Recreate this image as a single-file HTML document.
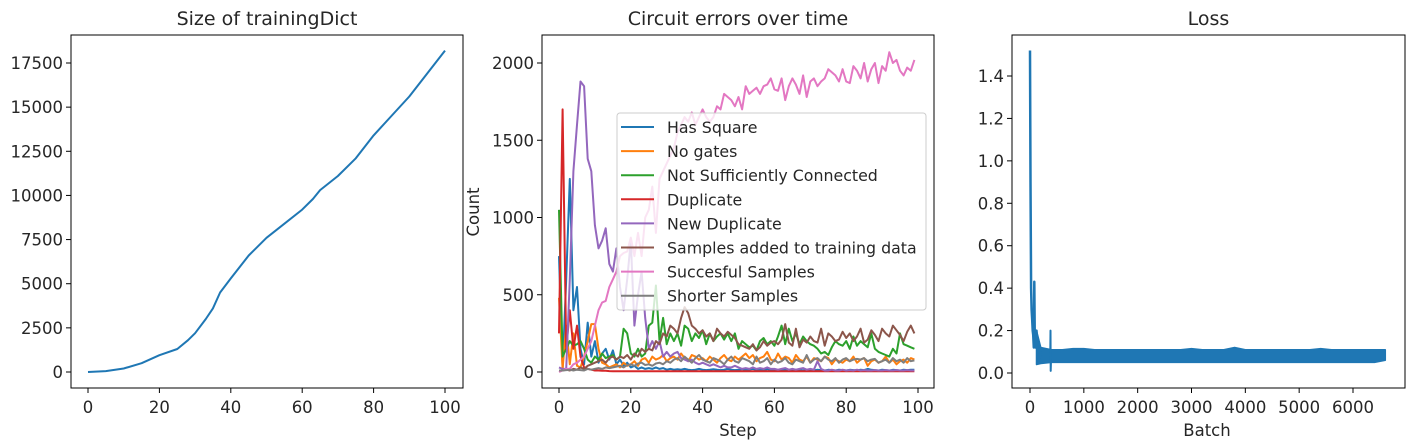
<!DOCTYPE html>
<html><head><meta charset="utf-8"><style>
html,body{margin:0;padding:0;background:#fff;width:1415px;height:447px;overflow:hidden}
svg text{font-family:"DejaVu Sans","Liberation Sans",sans-serif;fill:#262626}
</style></head><body>
<svg id="fig" width="1415" height="447" viewBox="0 0 1415 447" xmlns="http://www.w3.org/2000/svg"></svg>
<script>
// ---- Panel 1 data ----
const sizeSteps = [0,5,10,15,20,25,28,30,33,35,37,40,45,50,55,60,63,65,70,75,80,85,90,95,100];
const sizeValues = [0,50,200,500,950,1300,1800,2200,3000,3600,4500,5300,6600,7600,8400,9200,9800,10300,11100,12100,13400,14500,15600,16900,18200];
const sizeYTicks = [0,2500,5000,7500,10000,12500,15000,17500];
const stepXTicks = [0,20,40,60,80,100];
// ---- Panel 2 data ----
const seriesNames = ["Has Square","No gates","Not Sufficiently Connected","Duplicate","New Duplicate","Samples added to training data","Succesful Samples","Shorter Samples"];
const seriesColors = ["#1f77b4","#ff7f0e","#2ca02c","#d62728","#9467bd","#8c564b","#e377c2","#7f7f7f"];
const hasSquare = [750,20,600,1250,400,550,150,50,320,100,200,60,120,150,80,140,50,80,40,60,30,40,20,30,20,25,20,30,20,25,15,20,15,18,15,20,15,12,15,20,15,12,15,18,15,12,15,20,15,12,15,18,12,15,20,12,15,10,18,12,15,12,10,15,12,10,15,12,10,14,12,10,15,12,10,14,12,10,15,12,10,14,12,10,15,12,20,14,12,10,15,12,10,14,12,10,15,12,14,15];
const noGates = [480,20,300,50,250,40,30,100,200,310,310,150,60,50,30,40,50,30,60,40,50,70,40,80,90,60,100,80,90,110,70,90,100,80,120,90,70,110,100,80,90,70,100,80,60,90,110,80,70,100,80,100,120,90,110,70,90,100,130,80,70,120,80,100,90,60,110,80,70,100,60,90,80,70,100,90,50,80,70,60,80,70,100,60,80,90,40,70,80,60,70,100,60,80,50,70,80,60,90,80];
const notConnected = [1050,100,150,200,170,180,200,150,80,60,100,80,120,90,100,110,80,100,280,250,120,100,150,100,120,300,320,560,200,350,180,250,200,250,170,300,280,200,250,220,270,180,250,200,230,250,210,250,200,250,150,200,180,160,170,140,200,220,180,200,170,230,300,180,280,200,250,180,230,200,180,170,150,120,130,110,160,200,180,170,200,150,230,170,200,180,160,250,150,130,120,110,100,150,120,250,180,170,160,150];
const duplicate = [250,1700,150,400,150,300,100,30,20,15,10,10,8,8,6,5,5,5,5,5,5,5,5,5,5,5,5,5,5,5,5,5,5,5,5,5,5,5,5,5,5,5,5,5,5,5,5,5,5,5,5,5,5,5,5,5,5,5,5,5,5,5,5,5,5,5,5,5,5,5,5,5,5,5,5,5,5,5,5,5,5,5,5,5,5,5,5,5,5,5,5,5,5,5,5,5,5,5,5,5];
const newDuplicate = [30,20,20,600,1300,1600,1880,1850,1380,1300,950,800,850,930,700,650,800,550,400,600,850,300,500,650,350,150,200,150,200,100,130,100,120,130,90,80,70,80,60,50,60,50,40,50,40,30,40,30,30,40,30,20,25,20,30,20,25,20,30,20,20,15,20,25,15,20,15,20,25,15,20,15,70,20,10,10,15,10,10,15,10,12,10,15,10,12,10,10,12,10,10,12,10,10,12,10,10,12,10,10];
const addedSamples = [10,10,15,10,20,15,30,20,40,50,60,70,80,60,90,100,80,100,90,110,80,120,100,150,130,150,140,200,180,250,230,300,280,250,350,420,380,300,280,250,270,230,250,200,280,250,230,260,240,220,180,170,160,150,180,140,160,200,170,190,200,180,210,310,190,170,280,160,210,190,230,200,190,280,170,250,230,200,210,260,220,250,200,230,280,190,210,270,240,200,280,250,230,300,270,240,200,260,300,250];
const successful = [0,10,20,20,50,60,80,100,150,200,300,400,450,460,550,600,650,750,770,780,870,750,900,750,1000,1050,1200,900,1250,1300,1350,1400,1450,1550,1600,1650,1620,1680,1600,1650,1700,1650,1620,1650,1720,1700,1800,1780,1760,1720,1780,1700,1850,1800,1820,1840,1800,1850,1860,1900,1830,1820,1900,1760,1850,1900,1860,1800,1920,1780,1880,1900,1850,1880,1900,1960,1940,1920,1880,1960,1880,1870,1980,1950,1900,2000,1880,1960,2000,1870,1980,1950,2070,2000,2020,1950,1920,1970,1950,2020];
const shorter = [10,10,12,15,10,15,12,10,20,15,20,25,20,30,25,30,35,40,30,45,50,40,55,60,45,50,40,55,60,50,70,60,80,90,70,100,80,60,90,110,80,70,60,90,80,70,50,80,100,70,60,90,80,70,50,100,60,70,90,50,80,60,70,90,60,50,80,70,60,110,60,80,90,70,100,80,70,90,60,80,90,70,80,85,80,90,70,80,85,60,70,80,60,90,70,80,60,90,70,75];
const countYTicks = [0,500,1000,1500,2000];
// ---- Panel 3 data ----
const spikeBatch = [0,10,20,30,40,50,60,70,80,90,100,120,140,170,200];
const spikeLoss = [1.52,0.9,0.4,0.3,0.25,0.2,0.18,0.12,0.43,0.15,0.12,0.2,0.08,0.06,0.1];
const spike2Batch = [375,380,385,390];
const spike2Loss = [0.05,0.2,0.01,0.06];
const bandBatch = [120,200,400,600,800,1000,1200,1400,1600,1800,2000,2200,2400,2600,2800,3000,3200,3400,3600,3800,4000,4200,4400,4600,4800,5000,5200,5400,5600,5800,6000,6200,6400,6600];
const bandHi = [0.2,0.12,0.11,0.11,0.115,0.115,0.11,0.11,0.11,0.11,0.11,0.11,0.11,0.11,0.11,0.115,0.11,0.11,0.11,0.12,0.11,0.11,0.11,0.11,0.11,0.11,0.11,0.115,0.11,0.11,0.11,0.11,0.11,0.11];
const bandLo = [0.04,0.045,0.05,0.05,0.05,0.05,0.05,0.05,0.05,0.05,0.05,0.05,0.05,0.05,0.05,0.05,0.05,0.05,0.05,0.05,0.05,0.05,0.05,0.05,0.05,0.05,0.05,0.05,0.05,0.05,0.05,0.05,0.05,0.06];
const lossYTicks = [0.0,0.2,0.4,0.6,0.8,1.0,1.2,1.4];
const batchXTicks = [0,1000,2000,3000,4000,5000,6000];

const NS="http://www.w3.org/2000/svg";
const svg=document.getElementById('fig');
const TICK=16.5, TITLE=19, LAB=16.5;
function mk(tag,attrs,parent){const e=document.createElementNS(NS,tag);for(const k in attrs)e.setAttribute(k,attrs[k]);(parent||svg).appendChild(e);return e;}
function lin(d0,d1,r0,r1){return v=>r0+(v-d0)*(r1-r0)/(d1-d0);}

function axes(name,L,R,T,B,sx,sy,xt,yt,fmtY,fmtX){
  const g=mk('g',{});
  
  
  xt.forEach(t=>{const x=sx(t);
    mk('line',{x1:x,x2:x,y1:B,y2:B+5,stroke:'#000','stroke-width':1},g);
    const tx=mk('text',{x:x,y:B+25,'text-anchor':'middle','font-size':TICK},g);tx.textContent=fmtX?fmtX(t):t;
    
    });
  yt.forEach(t=>{const y=sy(t);
    mk('line',{x1:L-5,x2:L,y1:y,y2:y,stroke:'#000','stroke-width':1},g);
    const tx=mk('text',{x:L-8,y:y+6,'text-anchor':'end','font-size':TICK},g);tx.textContent=fmtY?fmtY(t):t;
    
    });
  return g;
}
function frame(L,R,T,B){const r=mk('rect',{x:L,y:T,width:R-L,height:B-T,fill:'none',stroke:'#000','stroke-width':1});
  
  }
function title(x,y,s,name,size){const t=mk('text',{x:x,y:y,'text-anchor':'middle','font-size':size||TITLE});t.textContent=s;
  
  return t;}
function poly(xs,ys,sx,sy,color,name,w){const p=mk('polyline',{points:xs.map((x,i)=>sx(x).toFixed(1)+','+sy(ys[i]).toFixed(1)).join(' '),fill:'none',stroke:color,'stroke-width':w||2,'stroke-linejoin':'round'});
  
  return p;}

// Panel 1
{const L=71,R=463,T=35,B=388;const sx=lin(0,100,88,445),sy=lin(0,17500,372,63);
 axes('size-axes',L,R,T,B,sx,sy,stepXTicks,sizeYTicks);
 poly(sizeSteps,sizeValues,sx,sy,'#1f77b4','training-dict-size-line');
 frame(L,R,T,B);title((L+R)/2,25,'Size of trainingDict','size-chart-title');}

// Panel 2
{const L=542,R=934,T=35,B=388;const sx=lin(0,100,559,918),sy=lin(0,2000,372,63);
 axes('circuit-axes',L,R,T,B,sx,sy,stepXTicks,countYTicks);
 const steps=successful.map((_,i)=>i);
 const all=[hasSquare,noGates,notConnected,duplicate,newDuplicate,addedSamples,successful,shorter];
 const keys=['has-square-line','no-gates-line','not-connected-line','duplicate-line','new-duplicate-line','samples-added-line','successful-samples-line','shorter-samples-line'];
 all.forEach((s,i)=>poly(steps,s,sx,sy,seriesColors[i],keys[i]));
 frame(L,R,T,B);title((L+R)/2,25,'Circuit errors over time','circuit-chart-title');
 title(738,436,'Step','x-axis-title',LAB);
 const yt=mk('text',{x:0,y:0,'text-anchor':'middle','font-size':LAB,transform:'translate(479,212) rotate(-90)'});yt.textContent='Count';
 
 
 const lg=mk('g',{});
 
 
 mk('rect',{x:617,y:113,width:309,height:197,rx:3,fill:'#fff','fill-opacity':0.8,stroke:'#ccc','stroke-width':1},lg);
 seriesNames.forEach((n,i)=>{const y=127+i*24.1;
   const e=mk('g',{},lg);
   
   
   mk('line',{x1:621,x2:654,y1:y,y2:y,stroke:seriesColors[i],'stroke-width':2},e);
   const t=mk('text',{x:667,y:y+6,'font-size':15.8},e);t.textContent=n;});
}

// Panel 3
{const L=1012,R=1405,T=35,B=388;const sx=lin(0,6000,1030,1353),sy=lin(0,1.4,373,76);
 axes('loss-axes',L,R,T,B,sx,sy,batchXTicks,lossYTicks,v=>v.toFixed(1));
 const pts=bandBatch.map((b,i)=>sx(b).toFixed(1)+','+sy(bandHi[i]).toFixed(1)).concat(bandBatch.slice().reverse().map((b,j)=>{const i=bandBatch.length-1-j;return sx(b).toFixed(1)+','+sy(bandLo[i]).toFixed(1);}));
 const band=mk('polygon',{points:pts.join(' '),fill:'#1f77b4',stroke:'#1f77b4','stroke-width':1.5,'stroke-linejoin':'round'});
 
 
 poly(spikeBatch,spikeLoss,sx,sy,'#1f77b4','loss-line',2.5);
 poly(spike2Batch,spike2Loss,sx,sy,'#1f77b4','loss-spike',2);
 frame(L,R,T,B);title((L+R)/2,25,'Loss','loss-chart-title');
 title(1207,436,'Batch','loss-x-axis-title',LAB);}
</script>
</body></html>
